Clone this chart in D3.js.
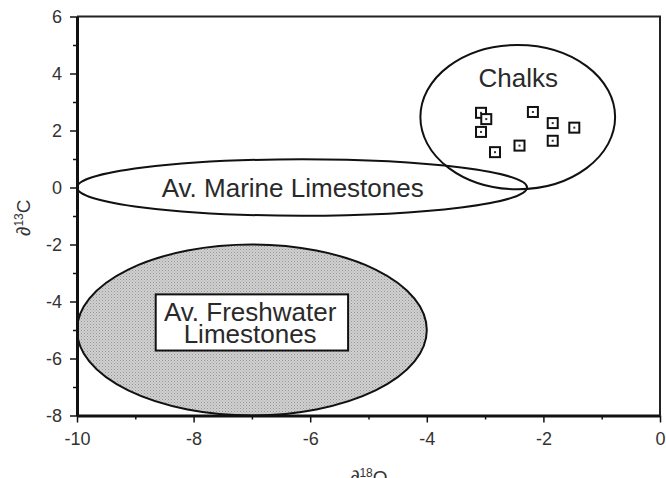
<!DOCTYPE html>
<meta charset="utf-8">
<style>
  body { margin: 0; background: #fff; }
  svg { font-family: "Liberation Sans", Arial, sans-serif; }
  .axis text { font-size: 18px; fill: #333; }
  .axis path, .axis line { stroke: #111; }
  .label { font-size: 26px; fill: #2a2a2a; }
</style>
<body>
<svg width="666" height="478"></svg>
<script src="https://d3js.org/d3.v7.min.js"></script>
<script>
// chalk samples (d18O, d13C)
var chalkO = [-3.07, -2.98, -3.07, -2.83, -2.41, -2.18, -1.84, -1.84, -1.47];
var chalkC = [2.62, 2.40, 1.95, 1.24, 1.47, 2.65, 2.26, 1.64, 2.10];

// fields: centre and half-widths in data units
var fieldNames = ["Chalks", "Av. Marine Limestones", "Av. Freshwater Limestones"];
var fieldCx = [-2.44, -6.14, -7.0];
var fieldCy = [2.47, 0.0, -5.0];
var fieldRx = [1.67, 3.86, 3.0];
var fieldRy = [2.53, 0.99, 3.0];

var xTicks = [-10, -8, -6, -4, -2, 0];
var yTicks = [-8, -6, -4, -2, 0, 2, 4, 6];

var svg = d3.select("svg");
var mLeft = 77, mRight = 660, mTop = 16.5, mBottom = 415.5;

var x = d3.scaleLinear().domain([-10, 0]).range([mLeft, mRight]);
var y = d3.scaleLinear().domain([-8, 6]).range([mBottom, mTop]);

// stipple for freshwater field
var defs = svg.append("defs");
var pat = defs.append("pattern")
    .attr("id", "stipple")
    .attr("patternUnits", "userSpaceOnUse")
    .attr("width", 3).attr("height", 3);
pat.append("rect").attr("width", 3).attr("height", 3).attr("fill", "#d0d0d0");
pat.append("rect").attr("width", 1).attr("height", 1).attr("fill", "#969696");
pat.append("rect").attr("x", 1.5).attr("y", 1.5).attr("width", 1).attr("height", 1).attr("fill", "#ababab");

/* Ellipses */
var fills = ["none", "none", "url(#stipple)"];
svg.append("g").selectAll("ellipse")
  .data(fieldNames)
  .enter().append("ellipse")
    .attr("cx", function(d, i) { return x(fieldCx[i]); })
    .attr("cy", function(d, i) { return y(fieldCy[i]); })
    .attr("rx", function(d, i) { return x(fieldCx[i] + fieldRx[i]) - x(fieldCx[i]); })
    .attr("ry", function(d, i) { return y(fieldCy[i] - fieldRy[i]) - y(fieldCy[i]); })
    .attr("fill", function(d, i) { return fills[i]; })
    .attr("stroke", "#111")
    .attr("stroke-width", 2);

/* Field labels */
svg.append("text").attr("class", "label")
    .attr("x", x(-2.43)).attr("y", y(3.52))
    .attr("text-anchor", "middle").text("Chalks");

svg.append("text").attr("class", "label")
    .attr("x", x(-6.3)).attr("y", y(-0.32))
    .attr("text-anchor", "middle").text("Av. Marine Limestones");

svg.append("rect")
    .attr("x", x(-8.65)).attr("y", y(-3.75))
    .attr("width", x(-5.35) - x(-8.65)).attr("height", y(-5.72) - y(-3.75))
    .attr("fill", "#fff").attr("stroke", "#111").attr("stroke-width", 2);

var fw = svg.append("text").attr("class", "label").attr("text-anchor", "middle");
fw.append("tspan").attr("x", x(-7.03)).attr("y", y(-4.68)).text("Av. Freshwater");
fw.append("tspan").attr("x", x(-7.03)).attr("y", y(-5.44)).text("Limestones");

/* Chalk points */
var pts = svg.append("g").selectAll("g")
  .data(chalkO)
  .enter().append("g")
    .attr("transform", function(d, i) { return "translate(" + x(d) + "," + y(chalkC[i]) + ")"; });
pts.append("rect")
    .attr("x", -5).attr("y", -5).attr("width", 10).attr("height", 10)
    .attr("fill", "#fff").attr("stroke", "#111").attr("stroke-width", 2);
pts.append("rect")
    .attr("x", -1).attr("y", -1).attr("width", 2).attr("height", 2)
    .attr("fill", "#333");

/* Frame (top and right) */
svg.append("path")
    .attr("d", "M" + mLeft + "," + mTop + "H" + mRight + "V" + mBottom)
    .attr("fill", "none").attr("stroke", "#222").attr("stroke-width", 2);

/* Axes */
var xMinor = d3.range(-9, 0, 2), yMinor = d3.range(-7, 6, 2);
var fmt = function(d) { return String(d); };

svg.append("g").attr("class", "axis")
    .attr("transform", "translate(0," + mBottom + ")")
    .call(d3.axisBottom(x).tickValues(xMinor).tickSize(4).tickFormat(""))
    .call(function(g) { g.select(".domain").remove(); });
svg.append("g").attr("class", "axis")
    .attr("transform", "translate(" + mLeft + ",0)")
    .call(d3.axisLeft(y).tickValues(yMinor).tickSize(4).tickFormat(""))
    .call(function(g) { g.select(".domain").remove(); });

svg.append("g").attr("class", "axis")
    .attr("transform", "translate(0," + mBottom + ")")
    .call(d3.axisBottom(x).tickValues(xTicks).tickSize(7).tickPadding(10).tickSizeOuter(0).tickFormat(fmt));
svg.append("g").attr("class", "axis")
    .attr("transform", "translate(" + mLeft + ",0)")
    .call(d3.axisLeft(y).tickValues(yTicks).tickSize(7).tickPadding(8).tickSizeOuter(0).tickFormat(fmt));
svg.selectAll(".axis .domain").attr("stroke-width", 3);
svg.selectAll(".axis line").attr("stroke-width", 1.5);

/* Axis titles */
var xt = svg.append("text")
    .attr("x", 350).attr("y", 484)
    .style("font-size", "19px").style("fill", "#333");
xt.append("tspan").text("\u2202");
xt.append("tspan").attr("dy", -7).style("font-size", "12px").text("18");
xt.append("tspan").attr("dy", 7).text("O");

var yt = svg.append("text")
    .attr("transform", "translate(30,236) rotate(-90)")
    .style("font-size", "19px").style("fill", "#333");
yt.append("tspan").text("\u2202");
yt.append("tspan").attr("dy", -7).style("font-size", "12px").text("13");
yt.append("tspan").attr("dy", 7).text("C");
</script>
</body>
